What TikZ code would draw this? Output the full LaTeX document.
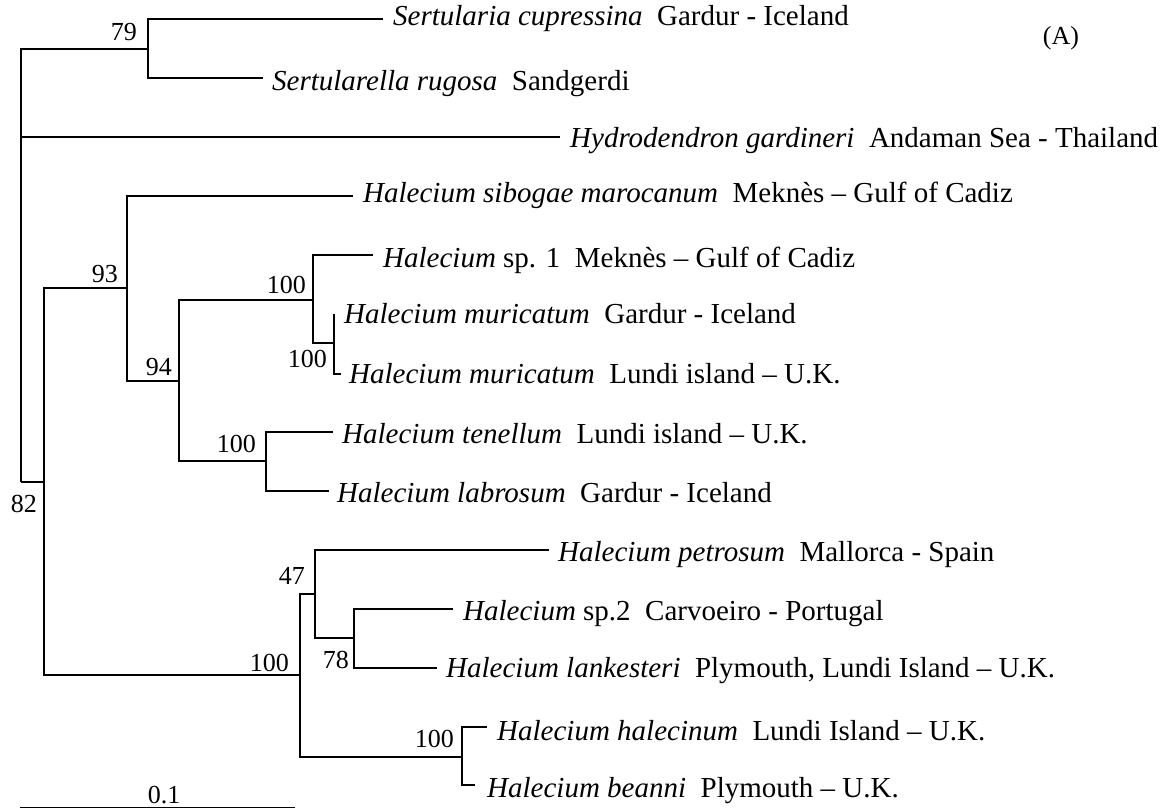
\documentclass[tikz,border=0pt]{standalone}
\usepackage{fontspec}
\setmainfont{Liberation Serif}
\begin{document}
\begin{tikzpicture}[x=1pt,y=-1pt,
  branch/.style={line width=1.5pt},
  taxon/.style={anchor=base west, inner sep=0pt, font=\fontsize{29}{34}\selectfont},
  boot/.style={anchor=base east, inner sep=0pt, font=\fontsize{26}{30}\selectfont}]
\useasboundingbox (0,0) rectangle (1169,809);

% internal nodes of the tree
\coordinate (root) at (21,482);
\coordinate (n79)  at (148,49);
\coordinate (n82)  at (44,482);
\coordinate (n93)  at (127,288);
\coordinate (n94)  at (179,381);
\coordinate (n100a) at (313,300);
\coordinate (n100b) at (334,343);
\coordinate (n100c) at (266,461);
\coordinate (n100d) at (300,675);
\coordinate (n47)  at (315,594);
\coordinate (n78)  at (354,638);
\coordinate (n100e) at (462,757);

% tips of the branches
\coordinate (tSc) at (383,19);
\coordinate (tSr) at (263,78);
\coordinate (tHy) at (560,137);
\coordinate (tSi) at (353,196);
\coordinate (tS1) at (373,255);
\coordinate (tM1) at (334,314);
\coordinate (tM2) at (341,374);
\coordinate (tTe) at (333,432);
\coordinate (tLa) at (329,491);
\coordinate (tPe) at (549,550);
\coordinate (tS2) at (453,609);
\coordinate (tLk) at (437,668);
\coordinate (tHa) at (487,727);
\coordinate (tBe) at (475,785);

% branches
\draw[branch] (root) |- (n79);
\draw[branch] (root) |- (tHy);
\draw[branch] (root) |- (n82);
\draw[branch] (n79) |- (tSc);
\draw[branch] (n79) |- (tSr);
\draw[branch] (n82) |- (n93);
\draw[branch] (n82) |- (n100d);
\draw[branch] (n93) |- (tSi);
\draw[branch] (n93) |- (n94);
\draw[branch] (n94) |- (n100a);
\draw[branch] (n94) |- (n100c);
\draw[branch] (n100a) |- (tS1);
\draw[branch] (n100a) |- (n100b);
\draw[branch] (n100b) |- (tM1);
\draw[branch] (n100b) |- (tM2);
\draw[branch] (n100c) |- (tTe);
\draw[branch] (n100c) |- (tLa);
\draw[branch] (n100d) |- (n47);
\draw[branch] (n100d) |- (n100e);
\draw[branch] (n47) |- (tPe);
\draw[branch] (n47) |- (n78);
\draw[branch] (n78) |- (tS2);
\draw[branch] (n78) |- (tLk);
\draw[branch] (n100e) |- (tHa);
\draw[branch] (n100e) |- (tBe);

% taxon labels
\node[taxon] (lSc) at (393,25)  {\textit{Sertularia cupressina}\hspace{0.5em}Gardur - Iceland};
\node[taxon] (lSr) at (272,90)  {\textit{Sertularella rugosa}\hspace{0.5em}Sandgerdi};
\node[taxon] (lHy) at (570,147) {\textit{Hydrodendron gardineri}\hspace{0.5em}Andaman Sea - Thailand};
\node[taxon] (lSi) at (363,202) {\textit{Halecium sibogae marocanum}\hspace{0.5em}Meknès – Gulf of Cadiz};
\node[taxon] (lS1) at (383,267) {\textit{Halecium} sp. 1\hspace{0.5em}Meknès – Gulf of Cadiz};
\node[taxon] (lM1) at (344,323) {\textit{Halecium muricatum}\hspace{0.5em}Gardur - Iceland};
\node[taxon] (lM2) at (349,383) {\textit{Halecium muricatum}\hspace{0.5em}Lundi island – U.K.};
\node[taxon] (lTe) at (342,443) {\textit{Halecium tenellum}\hspace{0.5em}Lundi island – U.K.};
\node[taxon] (lLa) at (337,502) {\textit{Halecium labrosum}\hspace{0.5em}Gardur - Iceland};
\node[taxon] (lPe) at (558,561) {\textit{Halecium petrosum}\hspace{0.5em}Mallorca - Spain};
\node[taxon] (lS2) at (463,620) {\textit{Halecium} sp.2\hspace{0.5em}Carvoeiro - Portugal};
\node[taxon] (lLk) at (446,677) {\textit{Halecium lankesteri}\hspace{0.5em}Plymouth, Lundi Island – U.K.};
\node[taxon] (lHa) at (497,740) {\textit{Halecium halecinum}\hspace{0.5em}Lundi Island – U.K.};
\node[taxon] (lBe) at (487,797) {\textit{Halecium beanni}\hspace{0.5em}Plymouth – U.K.};

% bootstrap values
\node[boot] (b79)  at (137,40)  {79};
\node[boot] (b93)  at (118,282) {93};
\node[boot] (b94)  at (172,375) {94};
\node[boot] (b100a) at (306,293) {100};
\node[boot] (b100b) at (327,367) {100};
\node[boot] (b100c) at (256,452) {100};
\node[boot] (b82)  at (37,512)  {82};
\node[boot] (b47)  at (305,584) {47};
\node[boot] (b100d) at (289,671) {100};
\node[boot] (b78)  at (349,668) {78};
\node[boot] (b100e) at (454,747) {100};

% panel letter
\node[anchor=base, inner sep=0pt, font=\fontsize{26}{30}\selectfont] (panel) at (1061,44) {(A)};

% scale bar
\coordinate (sbL) at (20,807.5);
\coordinate (sbR) at (295,807.5);
\draw[branch] (sbL) -- (sbR);
\node[anchor=base, inner sep=0pt, font=\fontsize{26}{30}\selectfont] (sbT) at (164,803) {0.1};
\end{tikzpicture}
\end{document}
